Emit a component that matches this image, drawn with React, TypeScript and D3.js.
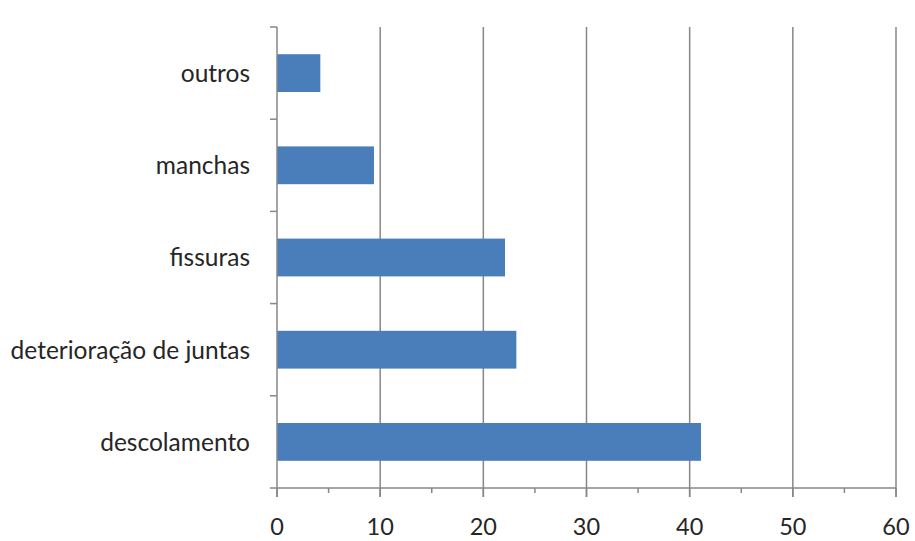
import React from "react";
import * as d3 from "d3";

const categories = ["descolamento", "deterioração de juntas", "fissuras", "manchas", "outros"];
const values = [41.1, 23.2, 22.1, 9.4, 4.2];
const xTicks = [0, 10, 20, 30, 40, 50, 60];
const xMinorTicks = [5, 15, 25, 35, 45, 55];

const W = 915;
const H = 541;
const left = 277;
const right = 896;
const top = 27;
const bottom = 488;
const FONT = "Lato, 'Open Sans', sans-serif";
const TEXT = "#262626";
const GRID = "#878787";
const BAR = "#4a7ebb";

export default function App() {
  const x = d3.scaleLinear().domain([0, 60]).range([left, right]);
  // categories from bottom (descolamento) to top (outros)
  const y = d3.scaleBand<string>().domain([...categories].reverse()).range([top, bottom]).padding(0);
  const step = y.step();
  const barH = step * 0.41;
  const boundaries = d3.range(categories.length).map((i) => top + i * step);

  return (
    <svg width={W} height={H} style={{ position: "absolute", left: 0, top: 0, background: "#fff" }}>
      {/* gridlines */}
      {xTicks.filter((t) => t > 0).map((t) => (
        <line key={"g" + t} x1={x(t)} x2={x(t)} y1={top} y2={bottom + 9} stroke={GRID} strokeWidth={1.5} />
      ))}
      {/* bars */}
      {categories.map((c, i) => (
        <rect key={c} x={x(0)} y={(y(c) as number) + (step - barH) / 2} width={x(values[i]) - x(0)} height={barH} fill={BAR} />
      ))}
      {/* y axis */}
      <line x1={left} x2={left} y1={top} y2={bottom + 9} stroke={GRID} strokeWidth={1.5} />
      {boundaries.map((b, i) => (
        <line key={"yt" + i} x1={left - 7} x2={left} y1={b} y2={b} stroke={GRID} strokeWidth={1.5} />
      ))}
      {/* x axis */}
      <line x1={left - 7} x2={right} y1={bottom} y2={bottom} stroke={GRID} strokeWidth={1.5} />
      {xTicks.map((t) => (
        <line key={"xt" + t} x1={x(t)} x2={x(t)} y1={bottom} y2={bottom + 9} stroke={GRID} strokeWidth={1.5} />
      ))}
      {xMinorTicks.map((t) => (
        <line key={"xm" + t} x1={x(t)} x2={x(t)} y1={bottom} y2={bottom + 5} stroke={GRID} strokeWidth={1.5} />
      ))}
      {/* category labels */}
      {categories.map((c) => (
        <text key={"l" + c} x={250} y={(y(c) as number) + step / 2} dy="0.36em" textAnchor="end"
          fontFamily={FONT} fontSize={24.5} fill={TEXT}>{c}</text>
      ))}
      {/* x tick labels */}
      {xTicks.map((t) => (
        <text key={"xl" + t} x={x(t)} y={535} textAnchor="middle" fontFamily={FONT} fontSize={23.5} fill={TEXT}>{t}</text>
      ))}
    </svg>
  );
}
